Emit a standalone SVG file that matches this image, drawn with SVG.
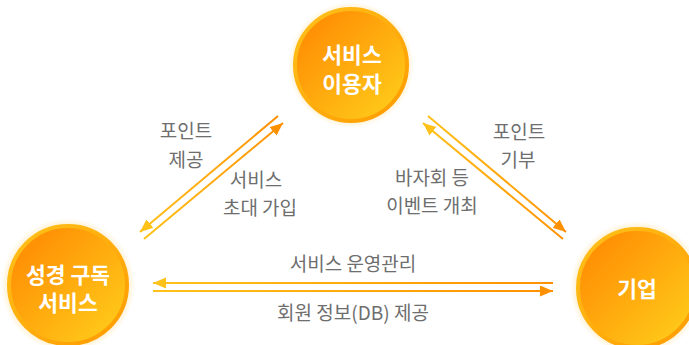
<svg xmlns="http://www.w3.org/2000/svg" width="689" height="345" viewBox="0 0 689 345">
<defs>
<linearGradient id="nodeFill" x1="0" y1="0" x2="1" y2="1">
<stop offset="0" stop-color="#ff8400"/>
<stop offset="1" stop-color="#ffd21c"/>
</linearGradient>
<linearGradient id="nodeRim" x1="0" y1="0" x2="1" y2="1">
<stop offset="0" stop-color="#ffc21a"/>
<stop offset="1" stop-color="#ff9a00"/>
</linearGradient>
<radialGradient id="glow" cx="0.5" cy="0.5" r="0.5">
<stop offset="0.85" stop-color="#ffb000" stop-opacity="0.25"/>
<stop offset="1" stop-color="#ffb000" stop-opacity="0"/>
</radialGradient>
<linearGradient id="gLeft" gradientUnits="userSpaceOnUse" x1="140" y1="239" x2="283" y2="116">
<stop offset="0" stop-color="#ffc21a"/>
<stop offset="1" stop-color="#ff9000"/>
</linearGradient>
<linearGradient id="gRight" gradientUnits="userSpaceOnUse" x1="423" y1="116" x2="566" y2="239">
<stop offset="0" stop-color="#ffc21a"/>
<stop offset="1" stop-color="#ff9000"/>
</linearGradient>
<linearGradient id="gHoriz" gradientUnits="userSpaceOnUse" x1="153" y1="0" x2="553" y2="0">
<stop offset="0" stop-color="#ffc21a"/>
<stop offset="1" stop-color="#ff9000"/>
</linearGradient>
<marker id="arrowY" markerUnits="userSpaceOnUse" markerWidth="14" markerHeight="12" refX="13" refY="5.5" orient="auto">
<path d="M0,0 L13,5.5 L0,11 z" fill="#ffc21a"/>
</marker>
<marker id="arrowO" markerUnits="userSpaceOnUse" markerWidth="14" markerHeight="12" refX="13" refY="5.5" orient="auto">
<path d="M0,0 L13,5.5 L0,11 z" fill="#ff9000"/>
</marker>
<style>
.glow{fill:url(#glow)}
.node{fill:url(#nodeFill);stroke:url(#nodeRim);stroke-width:4}
.ntext{font-family:"Noto Sans CJK KR","Noto Sans",sans-serif;font-weight:bold;font-size:21.5px;fill:#ffffff;text-anchor:middle}
.label{font-family:"Noto Sans CJK KR","Noto Sans",sans-serif;font-size:19px;fill:#6e6e6e;text-anchor:middle}
.ln{stroke-width:2;fill:none}
</style>
</defs>
<g id="connectors">
<line class="ln" x1="278" y1="116" x2="140" y2="232" stroke="url(#gLeft)" marker-end="url(#arrowY)"/>
<line class="ln" x1="144" y1="239" x2="283" y2="123" stroke="url(#gLeft)" marker-end="url(#arrowO)"/>
<line class="ln" x1="428" y1="116" x2="566" y2="232" stroke="url(#gRight)" marker-end="url(#arrowO)"/>
<line class="ln" x1="563" y1="239" x2="423" y2="123" stroke="url(#gRight)" marker-end="url(#arrowY)"/>
<line class="ln" x1="553" y1="283" x2="153" y2="283" stroke="url(#gHoriz)" marker-end="url(#arrowY)"/>
<line class="ln" x1="153" y1="291" x2="553" y2="291" stroke="url(#gHoriz)" marker-end="url(#arrowO)"/>
<text class="label" x="186" y="138">포인트</text>
<text class="label" x="186" y="167">제공</text>
<text class="label" x="256" y="187">서비스</text>
<text class="label" x="260" y="215">초대 가입</text>
<text class="label" x="432" y="185">바자회 등</text>
<text class="label" x="432" y="213">이벤트 개최</text>
<text class="label" x="519" y="139">포인트</text>
<text class="label" x="518" y="167">기부</text>
<text class="label" x="353" y="271">서비스 운영관리</text>
<text class="label" x="353" y="320">회원 정보(DB) 제공</text>
</g>
<g id="node-user">
<circle class="glow" cx="351" cy="65" r="63"/>
<circle class="node" cx="351" cy="65" r="56"/>
<text class="ntext" x="352" y="63">서비스</text>
<text class="ntext" x="352" y="92">이용자</text>
</g>
<g id="node-service">
<circle class="glow" cx="68" cy="285" r="67"/>
<circle class="node" cx="68" cy="285" r="59"/>
<text class="ntext" x="68" y="283">성경 구독</text>
<text class="ntext" x="68" y="311">서비스</text>
</g>
<g id="node-company">
<circle class="glow" cx="637" cy="288" r="67"/>
<circle class="node" cx="637" cy="288" r="59"/>
<text class="ntext" x="637" y="297">기업</text>
</g>
</svg>
